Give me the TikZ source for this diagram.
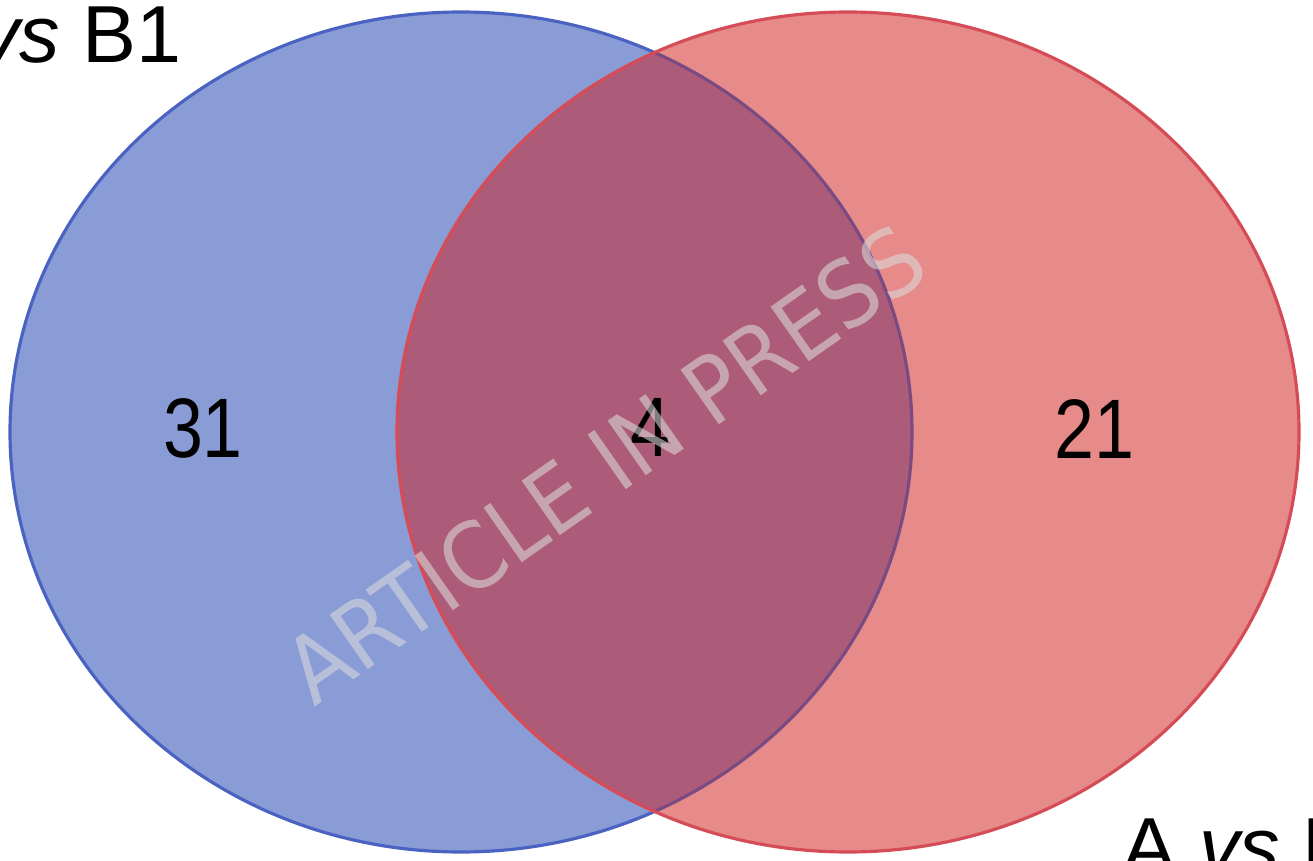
\documentclass[tikz,border=0pt]{standalone}
\usepackage{fontspec}
\setmainfont{Liberation Sans}
\newfontfamily\markfont{DejaVu Sans}
\usepackage{tikz}
\usetikzlibrary{positioning}
\definecolor{blueFill}{HTML}{8A9CD6}
\definecolor{blueLine}{HTML}{4A62C2}
\definecolor{redFill}{HTML}{E68A8A}
\definecolor{redLine}{HTML}{D64C56}
\definecolor{bothFill}{HTML}{AC5B78}
\definecolor{bothLine}{HTML}{7A4A82}
\definecolor{markGray}{HTML}{DADADA}
\tikzstyle{count} = [inner sep=0pt, xscale=0.85, transform shape, font=\fontsize{24}{28}\selectfont]
\tikzstyle{setname} = [inner sep=0pt, font=\fontsize{23}{27}\selectfont]

\begin{document}
\begin{tikzpicture}[x=0.01cm,y=0.01cm]
    \useasboundingbox (0,0) rectangle (1313,860);
    \clip (0,0) rectangle (1313,860);
    % the two sets
    \fill[blueFill] (461,428) ellipse [x radius=451, y radius=420];
    \draw[blueLine, line width=0.9pt] (461,428) ellipse [x radius=451, y radius=420];
    \fill[redFill] (848,428) ellipse [x radius=451, y radius=420];
    \begin{scope}
        \clip (461,428) ellipse [x radius=451, y radius=420];
        \fill[bothFill] (848,428) ellipse [x radius=451, y radius=420];
    \end{scope}
    \begin{scope}
        \clip (848,428) ellipse [x radius=451, y radius=420];
        \draw[bothLine, line width=0.9pt] (461,428) ellipse [x radius=451, y radius=420];
    \end{scope}
    \draw[redLine, line width=0.9pt] (848,428) ellipse [x radius=451, y radius=420];
    % counts
    \node[count] (onlyB1) at (203,432) {31};
    \node[count] (common) at (650,433) {4};
    \node[count] (onlyB2) at (1094,431) {21};
    % set names, cut by the frame
    \node[setname, anchor=base east] (nameB1) at (182,797) {A \textit{vs} B1};
    \node[setname, anchor=base west] (nameB2) at (1122,-14) {A \textit{vs} B2};
    % watermark
    \node[inner sep=0pt, rotate=35, text=markGray, text opacity=0.58,
          font=\markfont\fontsize{26}{31}\selectfont] (mark) at (605,396) {\scalebox{0.92}[1]{ARTICLE IN PRESS}};
\end{tikzpicture}
\end{document}
